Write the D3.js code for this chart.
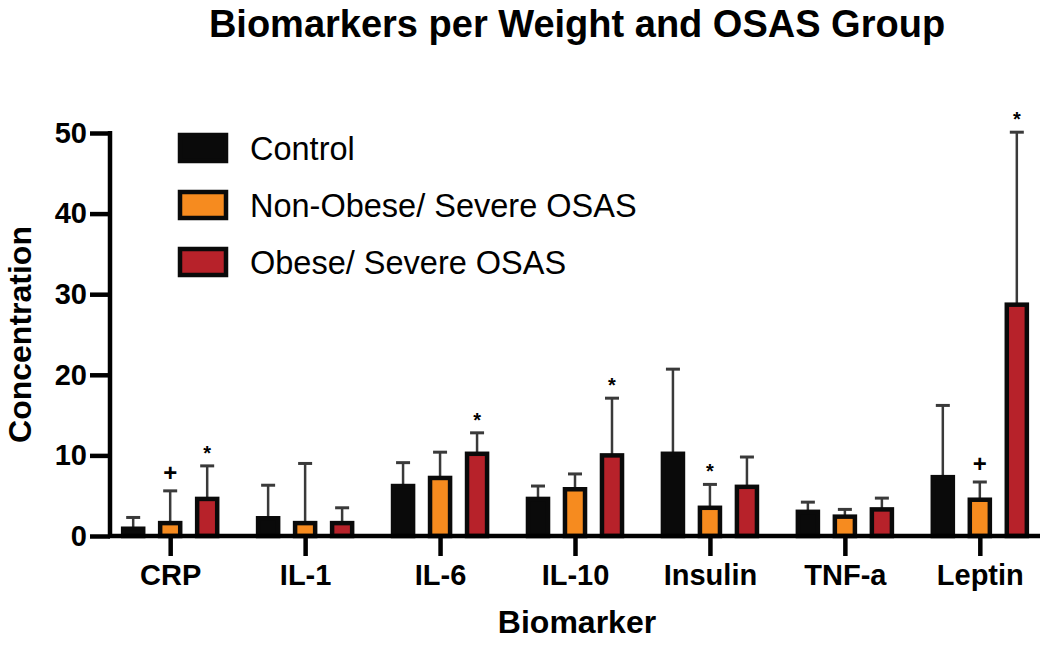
<!DOCTYPE html>
<html>
<head>
<meta charset="utf-8">
<script src="https://cdn.jsdelivr.net/npm/d3@7"></script>
<style>
  body { margin: 0; background: #fff; }
  svg text { font-family: "Liberation Sans", Arial, Helvetica, sans-serif; fill: #000; }
  .title { font-size: 38px; font-weight: bold; }
  .label { font-size: 32px; font-weight: bold; }
  .tick text { font-size: 29px; font-weight: bold; }
  .legend text { font-size: 32.5px; }
</style>
</head>
<body>
<svg id="chart"></svg>
<script>
// biomarkers on the x axis
var categories = ["CRP", "IL-1", "IL-6", "IL-10", "Insulin", "TNF-a", "Leptin"];
var groups = ["Control", "Non-Obese/ Severe OSAS", "Obese/ Severe OSAS"];
var groupColors = ["#0a0a0a", "#f68b1f", "#b7222a"];

// mean values
var controlMean  = [0.9, 2.2, 6.2, 4.6, 10.2, 3.0, 7.3];
var nonObeseMean = [1.6, 1.6, 7.2, 5.8, 3.5, 2.4, 4.5];
var obeseMean    = [4.6, 1.6, 10.2, 10.0, 6.1, 3.3, 28.7];

// upper error (SD) above each mean
var controlSD  = [1.4, 4.1, 2.9, 1.6, 10.5, 1.2, 8.9];
var nonObeseSD = [4.0, 7.4, 3.2, 1.9, 2.9, 0.9, 2.2];
var obeseSD    = [4.1, 1.9, 2.6, 7.1, 3.7, 1.4, 21.4];

// significance marks
var markCategory = ["CRP", "CRP", "IL-6", "IL-10", "Insulin", "Leptin", "Leptin"];
var markGroup    = [1, 2, 2, 2, 1, 1, 2];
var markSymbol   = ["+", "*", "*", "*", "*", "+", "*"];

var yTicks = [0, 10, 20, 30, 40, 50];

var initChart = function()
{
    var screen = {width: 1050, height: 645};
    var plot = {left: 110, right: 1040, top: 133, bottom: 536};

    var svg = d3.select("#chart")
        .attr("width", screen.width)
        .attr("height", screen.height);

    var means = [controlMean, nonObeseMean, obeseMean];
    var sds = [controlSD, nonObeseSD, obeseSD];

    var rows = [];
    categories.forEach(function(cat, i)
    {
        groups.forEach(function(g, j)
        {
            rows.push({cat: cat, group: j, mean: means[j][i], sd: sds[j][i]});
        });
    });

    var xScale = d3.scalePoint()
        .domain(categories)
        .range([plot.left, plot.right])
        .padding(0.446);

    var inner = d3.scaleBand()
        .domain([0, 1, 2])
        .range([-55.5, 55.5])
        .paddingInner(0.35)
        .paddingOuter(0.175);

    var yScale = d3.scaleLinear()
        .domain([0, 50])
        .range([plot.bottom, plot.top]);

    var bw = inner.bandwidth();

    // error bars first so bars sit over them
    var err = svg.append("g").classed("errors", true);
    err.selectAll("line.stem")
        .data(rows)
        .enter()
        .append("line")
        .attr("class", "stem")
        .attr("x1", function(d) { return xScale(d.cat) + inner(d.group) + bw / 2; })
        .attr("x2", function(d) { return xScale(d.cat) + inner(d.group) + bw / 2; })
        .attr("y1", function(d) { return yScale(d.mean); })
        .attr("y2", function(d) { return yScale(d.mean + d.sd); })
        .attr("stroke", "#3a3a3a")
        .attr("stroke-width", 2.5);

    err.selectAll("line.cap")
        .data(rows)
        .enter()
        .append("line")
        .attr("class", "cap")
        .attr("x1", function(d) { return xScale(d.cat) + inner(d.group) + bw / 2 - 7; })
        .attr("x2", function(d) { return xScale(d.cat) + inner(d.group) + bw / 2 + 7; })
        .attr("y1", function(d) { return yScale(d.mean + d.sd); })
        .attr("y2", function(d) { return yScale(d.mean + d.sd); })
        .attr("stroke", "#3a3a3a")
        .attr("stroke-width", 3);

    // bars with thick black border
    svg.append("g")
        .classed("bars", true)
        .selectAll("rect")
        .data(rows)
        .enter()
        .append("rect")
        .attr("x", function(d) { return xScale(d.cat) + inner(d.group) + 2; })
        .attr("width", bw - 4)
        .attr("y", function(d) { return yScale(d.mean); })
        .attr("height", function(d) { return yScale(0) - yScale(d.mean); })
        .attr("fill", function(d) { return groupColors[d.group]; })
        .attr("stroke", "#0a0a0a")
        .attr("stroke-width", 4.5);

    // significance symbols
    var marks = markCategory.map(function(c, k)
    {
        var i = categories.indexOf(c);
        var g = markGroup[k];
        return {cat: c, group: g, sym: markSymbol[k], top: means[g][i] + sds[g][i]};
    });

    svg.append("g")
        .classed("marks", true)
        .selectAll("text")
        .data(marks)
        .enter()
        .append("text")
        .text(function(d) { return d.sym; })
        .attr("text-anchor", "middle")
        .attr("x", function(d) { return xScale(d.cat) + inner(d.group) + bw / 2; })
        .attr("y", function(d) { return yScale(d.top) - (d.sym == "+" ? 10 : 6); })
        .style("font-size", function(d) { return d.sym == "+" ? "24px" : "20px"; })
        .style("font-weight", "bold");

    // axes
    var xAxis = d3.axisBottom(xScale)
        .tickSize(20)
        .tickSizeOuter(0)
        .tickPadding(8);
    var gx = svg.append("g")
        .attr("transform", "translate(0," + plot.bottom + ")")
        .call(xAxis);

    var yAxis = d3.axisLeft(yScale)
        .tickValues(yTicks)
        .tickSize(20)
        .tickSizeOuter(0)
        .tickPadding(3);
    var gy = svg.append("g")
        .attr("transform", "translate(" + plot.left + ",0)")
        .call(yAxis);

    [gx, gy].forEach(function(g)
    {
        g.select(".domain").attr("stroke", "#000").attr("stroke-width", 4.5);
        g.selectAll(".tick line").attr("stroke", "#000").attr("stroke-width", 4.5);
        g.selectAll(".tick text").attr("fill", "#000");
    });
    gx.select(".domain").attr("d", "M" + (plot.left - 2) + ",0H" + plot.right);
    gy.select(".domain").attr("d", "M0," + (plot.bottom + 2) + "V" + (plot.top - 2));

    // labels
    svg.append("text")
        .classed("title", true)
        .text("Biomarkers per Weight and OSAS Group")
        .attr("text-anchor", "middle")
        .attr("x", 577)
        .attr("y", 37);

    svg.append("text")
        .classed("label", true)
        .text("Biomarker")
        .attr("text-anchor", "middle")
        .attr("x", 577)
        .attr("y", 633);

    svg.append("g")
        .attr("transform", "translate(31," + ((plot.top + plot.bottom) / 2) + ")")
        .append("text")
        .classed("label", true)
        .text("Concentration")
        .attr("text-anchor", "middle")
        .attr("transform", "rotate(-90)");

    // legend
    var legend = svg.append("g")
        .classed("legend", true)
        .attr("transform", "translate(178,133)");

    var entries = legend.selectAll("g")
        .data(groups)
        .enter()
        .append("g")
        .attr("transform", function(d, i) { return "translate(0," + (i * 57) + ")"; });

    entries.append("rect")
        .attr("x", 2)
        .attr("y", 2)
        .attr("width", 46)
        .attr("height", 26)
        .attr("fill", function(d, i) { return groupColors[i]; })
        .attr("stroke", "#0a0a0a")
        .attr("stroke-width", 4.5);

    entries.append("text")
        .text(function(d) { return d; })
        .attr("x", 72)
        .attr("y", 27);
};

initChart();
</script>
</body>
</html>
